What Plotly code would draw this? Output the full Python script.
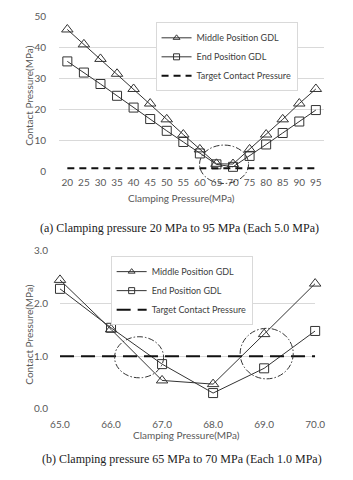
import plotly.graph_objects as go

# ---- data (a) ----
clamp_a = [20, 25, 30, 35, 40, 45, 50, 55, 60, 65, 70, 75, 80, 85, 90, 95]
middle_a = [45.8, 41.0, 36.3, 31.5, 26.6, 21.9, 16.8, 11.9, 7.1, 2.45, 2.38, 7.1, 11.9, 16.8, 21.9, 26.6]
end_a = [35.5, 31.9, 28.2, 24.4, 20.6, 16.9, 13.1, 9.5, 5.8, 2.28, 1.48, 5.0, 8.7, 12.4, 16.1, 19.8]
target_a = [1.0] * len(clamp_a)
yticks_a = [0, 10, 20, 30, 40, 50]

# ---- data (b) ----
clamp_b = [65, 66, 67, 68, 69, 70]
clamp_b_labels = ["65.0", "66.0", "67.0", "68.0", "69.0", "70.0"]
middle_b = [2.45, 1.51, 0.54, 0.47, 1.42, 2.38]
end_b = [2.28, 1.54, 0.85, 0.30, 0.77, 1.48]
target_b = [1.0] * len(clamp_b)
yticks_b = [0.0, 1.0, 2.0, 3.0]
yticks_b_labels = ["0.0", "1.0", "2.0", "3.0"]

series_names = ["Middle Position GDL", "End Position GDL", "Target Contact Pressure"]

# highlight ellipses (data coordinates): x0, x1, y0, y1
ellipse_a = [(59.9, 74.7, -3.9, 8.5)]
ellipse_b = [(66.07, 67.03, 0.59, 1.37), (68.53, 69.57, 0.57, 1.53)]

W, H = 353, 480
LINE = "#333333"
GRID = "#d9d9d9"
TXT = "#595959"
SANS = "Lato"
SERIF = "Liberation Serif"

fig = go.Figure()

def add_series(x, ym, ye, yt, xa, ya, leg, tdash):
    styles = [
        dict(symbol="triangle-up-open", size=10),
        dict(symbol="square-open", size=9),
    ]
    for name, yv, st in zip(series_names[:2], [ym, ye], styles):
        fig.add_trace(go.Scatter(x=x, y=yv, mode="lines+markers", name=name,
                                 xaxis=xa, yaxis=ya, showlegend=False, cliponaxis=False,
                                 line=dict(color=LINE, width=1),
                                 marker=dict(symbol=st["symbol"], size=st["size"], color=LINE,
                                             line=dict(width=1, color=LINE))))
    fig.add_trace(go.Scatter(x=x, y=yt, mode="lines", name=series_names[2],
                             xaxis=xa, yaxis=ya, showlegend=False,
                             line=dict(color="#111111", width=2, dash=tdash)))
    # legend entries (smaller symbols, as in the original legend)
    for name, sym in zip(series_names[:2], ["triangle-up-open", "square-open"]):
        fig.add_trace(go.Scatter(x=[None], y=[None], mode="lines+markers", name=name,
                                 xaxis=xa, yaxis=ya, legend=leg,
                                 line=dict(color=LINE, width=1),
                                 marker=dict(symbol=sym, size=6, color=LINE,
                                             line=dict(width=1, color=LINE))))
    fig.add_trace(go.Scatter(x=[None], y=[None], mode="lines", name=series_names[2],
                             xaxis=xa, yaxis=ya, legend=leg,
                             line=dict(color="#111111", width=2, dash=tdash)))

add_series(clamp_a, middle_a, end_a, target_a, "x", "y", "legend", "7px,5px")
add_series(clamp_b, middle_b, end_b, target_b, "x2", "y2", "legend2", "14px,7px")

ya_range = [0, 50]
ELL_DASH = "6px,2px,1.5px,2px"
for (x0, x1, y0, y1) in ellipse_a:
    span = ya_range[1] - ya_range[0]
    fig.add_shape(type="circle", xref="x", yref="y domain",
                  x0=x0, x1=x1, y0=(y0 - ya_range[0]) / span, y1=(y1 - ya_range[0]) / span,
                  line=dict(color=LINE, width=1, dash=ELL_DASH))
for (x0, x1, y0, y1) in ellipse_b:
    fig.add_shape(type="circle", xref="x2", yref="y2", x0=x0, x1=x1, y0=y0, y1=y1,
                  line=dict(color=LINE, width=1, dash=ELL_DASH))

tickfont = dict(family=SANS, size=10, color=TXT)
legfont = dict(family=SANS, size=9, color="#404040")

fig.update_layout(
    width=W, height=H,
    margin=dict(l=0, r=0, t=0, b=0),
    paper_bgcolor="white", plot_bgcolor="white",
    font=dict(family=SANS, size=10, color=TXT),
    xaxis=dict(domain=[52 / W, 333 / W], range=[17.5, 97.5], tickvals=clamp_a,
               showgrid=False, zeroline=False, showline=False, ticks="",
               tickfont=tickfont, ticklabelstandoff=4, anchor="y"),
    yaxis=dict(domain=[1 - 169.3 / H, 1 - 10.7 / H], range=ya_range, tickvals=yticks_a,
               showgrid=True, gridcolor=GRID, gridwidth=1, zeroline=False, showline=False,
               ticks="", tickfont=tickfont, ticklabelstandoff=12, anchor="x"),
    xaxis2=dict(domain=[53 / W, 323.5 / W], range=[65, 70], tickvals=clamp_b,
                ticktext=clamp_b_labels, showgrid=False, zeroline=False, showline=False,
                ticks="", tickfont=tickfont, ticklabelstandoff=8, anchor="y2"),
    yaxis2=dict(domain=[1 - 412.3 / H, 1 - 250.7 / H], range=[0, 3], tickvals=yticks_b,
                ticktext=yticks_b_labels, showgrid=True, gridcolor=GRID, gridwidth=1,
                zeroline=False, showline=False, ticks="", tickfont=tickfont,
                ticklabelstandoff=11, anchor="x2"),
    legend=dict(x=154.3 / W, y=1 - 16.7 / H, xanchor="left", yanchor="top",
                bgcolor="white", bordercolor=GRID, borderwidth=1,
                font=legfont, tracegroupgap=0),
    legend2=dict(x=106.7 / W, y=1 - 256 / H, xanchor="left", yanchor="top",
                 bgcolor="white", bordercolor=GRID, borderwidth=1,
                 font=legfont, tracegroupgap=0),
)

def ann(text, x, y, size, family, color, angle=0):
    fig.add_annotation(text=text, x=x / W, y=1 - y / H, xref="paper", yref="paper",
                       showarrow=False, textangle=angle, xanchor="center", yanchor="middle",
                       font=dict(size=size, family=family, color=color))

ann("Clamping Pressure(MPa)", 181.7, 196.7, 10, SANS, TXT)
ann("Contact Pressure(MPa)", 20, 92, 10, SANS, TXT, -90)
ann("(a) Clamping pressure 20 MPa to 95 MPa (Each 5.0 MPa)", 180, 226.7, 12, SERIF, "#222222")

ann("Clamping Pressure(MPa)", 187.5, 439.3, 10, SANS, TXT)
ann("Contact Pressure(MPa)", 20, 336.5, 10, SANS, TXT, -90)
ann("(b) Clamping pressure 65 MPa to 70 MPa (Each 1.0 MPa)", 182.5, 463.3, 12, SERIF, "#222222")

fig.write_html("out.html")
